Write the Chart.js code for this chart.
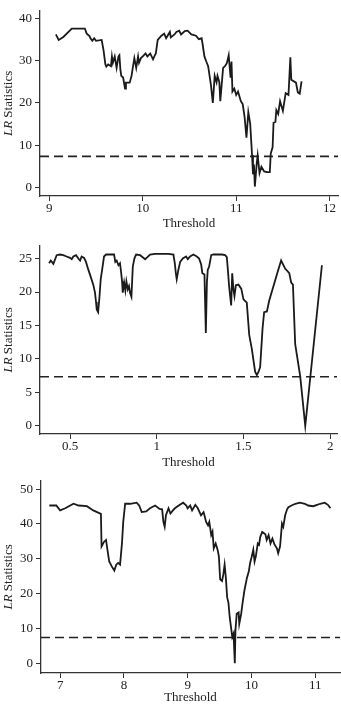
<!DOCTYPE html>
<html>
<head>
<meta charset="utf-8">
<script src="https://cdn.jsdelivr.net/npm/chart.js@4.4.0/dist/chart.umd.min.js"></script>
<style>
    body { margin: 0; background: #fff; }
    .panel { position: absolute; left: 0; width: 341px; height: 235px; }
    canvas { display: block; }
</style>
</head>
<body>
<div class="panel" style="top:0px"><canvas id="grafico-1" width="341" height="235"></canvas></div>
<div class="panel" style="top:235px"><canvas id="grafico-2" width="341" height="235"></canvas></div>
<div class="panel" style="top:470px"><canvas id="grafico-3" width="341" height="235"></canvas></div>
<script>
// Critical value (dashed line)
var valorCritico = 7.35;

// Panel 1
var thr1 = [9.07, 9.10, 9.15, 9.24, 9.38, 9.40, 9.43, 9.44, 9.46, 9.48, 9.50, 9.56, 9.58, 9.60, 9.61,
    9.63, 9.66, 9.67, 9.68, 9.70, 9.72, 9.74, 9.75, 9.76, 9.77, 9.79, 9.81, 9.82, 9.86, 9.88,
    9.89, 9.91, 9.93, 9.95, 9.96, 9.98, 10.00, 10.03, 10.05, 10.08, 10.11, 10.13, 10.14, 10.16, 10.20,
    10.23, 10.25, 10.29, 10.30, 10.34, 10.36, 10.39, 10.41, 10.45, 10.48, 10.52, 10.57, 10.60, 10.63, 10.64,
    10.66, 10.68, 10.70, 10.73, 10.75, 10.77, 10.79, 10.80, 10.82, 10.83, 10.86, 10.88, 10.90, 10.92, 10.94,
    10.95, 10.96, 10.98, 11.00, 11.02, 11.05, 11.07, 11.09, 11.11, 11.13, 11.15, 11.17, 11.18, 11.19, 11.20,
    11.22, 11.23, 11.25, 11.27, 11.30, 11.33, 11.36, 11.37, 11.39, 11.40, 11.42, 11.43, 11.45, 11.47, 11.50,
    11.53, 11.56, 11.58, 11.59, 11.64, 11.66, 11.68, 11.70];
var lr1 = [36.2, 34.9, 35.6, 37.6, 37.6, 36.4, 35.8, 35.3, 34.7, 35.3, 34.7, 34.9, 32.5, 29.1, 28.6,
    29.1, 28.7, 31.0, 29.5, 31.0, 28.3, 31.0, 31.3, 28.0, 26.4, 26.0, 23.4, 24.8, 24.8, 26.4,
    27.9, 30.6, 28.3, 31.0, 29.5, 30.6, 31.0, 31.7, 31.0, 31.7, 30.3, 31.3, 31.7, 34.9, 35.9,
    36.4, 35.3, 36.8, 35.5, 36.2, 36.8, 37.1, 36.2, 37.0, 37.1, 36.2, 35.9, 35.1, 35.3, 34.0,
    31.0, 29.8, 28.7, 24.2, 20.0, 26.4, 24.9, 26.4, 24.9, 20.4, 28.3, 28.7, 29.4, 31.3, 26.0,
    29.8, 22.7, 23.4, 21.9, 22.7, 20.4, 19.7, 16.7, 11.8, 17.8, 15.1, 7.6, 3.1, 5.4, 0.2,
    5.7, 7.6, 3.4, 4.9, 3.8, 3.6, 3.6, 8.0, 9.5, 15.3, 15.5, 18.3, 17.4, 20.4, 18.1,
    22.3, 21.9, 30.8, 25.5, 24.8, 22.5, 22.2, 25.1];
var ejeX1 = [9, 10, 11, 12];
var ejeY1 = [0, 10, 20, 30, 40];

// Panel 2
var thr2 = [0.379, 0.389, 0.404, 0.423, 0.442, 0.461, 0.480, 0.500, 0.510, 0.519, 0.535, 0.548, 0.558, 0.567, 0.581,
    0.592, 0.606, 0.619, 0.634, 0.644, 0.650, 0.654, 0.662, 0.669, 0.677, 0.689, 0.696, 0.708, 0.740, 0.754,
    0.761, 0.769, 0.779, 0.788, 0.794, 0.800, 0.804, 0.812, 0.819, 0.825, 0.833, 0.840, 0.846, 0.854, 0.862,
    0.871, 0.881, 0.904, 0.919, 0.933, 0.946, 0.962, 0.990, 1.029, 1.067, 1.096, 1.104, 1.110, 1.115, 1.123,
    1.135, 1.150, 1.169, 1.179, 1.192, 1.211, 1.231, 1.244, 1.256, 1.263, 1.275, 1.283, 1.289, 1.294, 1.302,
    1.314, 1.327, 1.375, 1.394, 1.404, 1.410, 1.417, 1.423, 1.429, 1.435, 1.442, 1.448, 1.456, 1.471, 1.487,
    1.500, 1.519, 1.533, 1.548, 1.567, 1.577, 1.587, 1.596, 1.610, 1.619, 1.635, 1.648, 1.673, 1.698, 1.717,
    1.740, 1.764, 1.775, 1.785, 1.798, 1.827, 1.856, 1.952];
var lr2 = [24.3, 24.7, 24.2, 25.5, 25.6, 25.5, 25.3, 25.1, 24.9, 25.3, 25.5, 25.0, 24.7, 25.3, 25.1,
    24.5, 23.3, 22.3, 21.1, 19.9, 18.5, 17.4, 17.0, 19.0, 21.9, 24.0, 25.3, 25.6, 25.6, 25.6,
    24.5, 24.7, 24.0, 24.3, 23.1, 21.6, 19.9, 21.4, 20.2, 21.6, 20.4, 20.9, 19.9, 19.3, 23.8,
    25.0, 25.6, 25.5, 25.2, 24.9, 25.2, 25.6, 25.7, 25.7, 25.7, 25.6, 24.3, 22.8, 21.9, 23.1,
    24.5, 25.0, 25.3, 24.9, 25.3, 25.6, 25.3, 25.0, 24.1, 22.8, 22.6, 13.9, 21.4, 23.3, 23.8,
    25.5, 25.6, 25.6, 25.5, 25.2, 23.3, 20.9, 19.4, 18.0, 22.8, 20.4, 19.4, 21.0, 21.1, 20.5,
    18.9, 18.4, 13.6, 11.5, 8.1, 7.6, 8.1, 8.8, 14.6, 17.0, 17.1, 18.7, 20.9, 23.1, 24.7,
    23.5, 22.8, 21.4, 21.1, 12.2, 7.4, 0.0, 24.0];
var ejeX2 = [0.5, 1, 1.5, 2];
var ejeY2 = [0, 5, 10, 15, 20, 25];

// Panel 3
var thr3 = [6.83, 6.94, 7.00, 7.08, 7.21, 7.29, 7.42, 7.52, 7.64, 7.65, 7.69, 7.72, 7.75, 7.77, 7.81,
    7.85, 7.88, 7.91, 7.94, 7.97, 7.99, 8.02, 8.10, 8.20, 8.24, 8.28, 8.35, 8.41, 8.49, 8.56,
    8.60, 8.62, 8.64, 8.66, 8.70, 8.73, 8.77, 8.80, 8.86, 8.93, 8.98, 9.00, 9.04, 9.07, 9.12,
    9.16, 9.21, 9.25, 9.29, 9.32, 9.34, 9.37, 9.39, 9.41, 9.44, 9.47, 9.49, 9.51, 9.54, 9.56,
    9.58, 9.60, 9.62, 9.64, 9.66, 9.68, 9.70, 9.72, 9.74, 9.75, 9.77, 9.80, 9.81, 9.84, 9.86,
    9.89, 9.93, 9.96, 9.98, 10.00, 10.03, 10.05, 10.07, 10.10, 10.12, 10.14, 10.17, 10.22, 10.24, 10.27,
    10.30, 10.33, 10.36, 10.40, 10.42, 10.45, 10.48, 10.50, 10.53, 10.56, 10.58, 10.63, 10.69, 10.76, 10.84,
    10.89, 10.97, 11.03, 11.08, 11.15, 11.20, 11.24];
var lr3 = [45.3, 45.3, 43.9, 44.5, 45.8, 45.3, 45.1, 43.9, 42.9, 33.5, 34.9, 35.4, 31.6, 29.2, 27.8,
    26.6, 28.3, 28.8, 28.3, 34.4, 40.6, 45.8, 45.8, 46.1, 45.3, 43.4, 43.6, 44.5, 45.3, 44.3,
    44.2, 40.6, 39.2, 42.5, 44.5, 43.0, 43.9, 44.5, 45.3, 46.1, 45.3, 44.5, 45.3, 43.9, 45.5,
    44.5, 42.5, 43.4, 40.6, 39.6, 40.6, 36.8, 37.8, 33.0, 34.4, 32.6, 30.7, 24.1, 23.6, 25.5,
    28.3, 24.5, 18.9, 17.4, 13.2, 10.4, 7.5, 8.5, 0.0, 9.4, 14.2, 14.6, 11.3, 14.2, 17.0,
    20.8, 24.5, 26.4, 28.8, 30.2, 32.6, 29.2, 30.7, 34.4, 34.0, 36.3, 37.7, 37.0, 35.4, 36.8,
    34.4, 35.8, 34.2, 33.0, 31.6, 33.6, 40.1, 39.2, 42.5, 44.2, 44.8, 45.3, 45.8, 46.1, 45.8,
    45.3, 45.1, 45.5, 45.8, 46.1, 45.5, 44.5];
var ejeX3 = [7, 8, 9, 10, 11];
var ejeY3 = [0, 10, 20, 30, 40, 50];

var fuente = '"Liberation Serif", "Times New Roman", serif';

//Etiqueta del eje Y con "LR" en cursiva
var etiquetaY = {
    id: 'etiquetaY',
    afterDraw: function (chart) {
        var ctx = chart.ctx;
        var area = chart.chartArea;
        var fItal = 'italic 13px ' + fuente;
        var fNorm = '13px ' + fuente;
        ctx.save();
        ctx.translate(9, (area.top + area.bottom) / 2);
        ctx.rotate(-Math.PI / 2);
        ctx.fillStyle = '#222';
        ctx.textBaseline = 'middle';
        ctx.textAlign = 'left';
        ctx.font = fItal;
        var w1 = ctx.measureText('LR').width;
        ctx.font = fNorm;
        var w2 = ctx.measureText(' Statistics').width;
        var x0 = -(w1 + w2) / 2;
        ctx.font = fItal;
        ctx.fillText('LR', x0, 0);
        ctx.font = fNorm;
        ctx.fillText(' Statistics', x0 + w1, 0);
        ctx.restore();
    }
};

function crearGrafico(id, thr, lr, ticksX, ticksY, rango, m) {
    var ctx = document.getElementById(id).getContext('2d');

    var puntos = thr.map(function (t, i) { return { x: t, y: lr[i] }; });
    var critico = [{ x: rango.xMin, y: valorCritico }, { x: rango.xMax, y: valorCritico }];

    return new Chart(ctx, {
        type: 'line',
        data: {
            datasets: [{
                data: puntos,
                borderColor: '#1a1a1a',
                borderWidth: 1.8,
                pointRadius: 0,
                tension: 0
            }, {
                data: critico,
                borderColor: '#222',
                borderWidth: 1.6,
                borderDash: [9, 5],
                pointRadius: 0
            }]
        },
        options: {
            responsive: false,
            animation: false,
            layout: { padding: { top: m.top, right: m.right, left: 0, bottom: 0 } },
            plugins: { legend: { display: false }, tooltip: { enabled: false } },
            scales: {
                x: {
                    type: 'linear',
                    min: rango.xMin,
                    max: rango.xMax,
                    afterBuildTicks: function (s) { s.ticks = ticksX.map(function (v) { return { value: v }; }); },
                    afterFit: function (s) { s.height = m.bottom; },
                    grid: { drawOnChartArea: false, drawTicks: true, tickLength: 5, color: '#333', lineWidth: 1 },
                    border: { display: true, color: '#333', width: 1.3 },
                    ticks: {
                        color: '#222', padding: 0, maxRotation: 0, autoSkip: false,
                        font: { family: fuente, size: 13 },
                        callback: function (v) { return String(v); }
                    },
                    title: {
                        display: true, text: 'Threshold', color: '#222',
                        font: { family: fuente, size: 13 },
                        padding: { top: 0, bottom: m.titulo }
                    }
                },
                y: {
                    min: rango.yMin,
                    max: rango.yMax,
                    afterBuildTicks: function (s) { s.ticks = ticksY.map(function (v) { return { value: v }; }); },
                    afterFit: function (s) { s.width = m.left; },
                    grid: { drawOnChartArea: false, drawTicks: true, tickLength: 5, color: '#333', lineWidth: 1 },
                    border: { display: true, color: '#333', width: 1.3 },
                    ticks: {
                        color: '#222', padding: 3, autoSkip: false,
                        font: { family: fuente, size: 13 },
                        callback: function (v) { return String(v); }
                    }
                }
            }
        },
        plugins: [etiquetaY]
    });
}

crearGrafico('grafico-1', thr1, lr1, ejeX1, ejeY1,
    { xMin: 8.9, xMax: 12.09, yMin: -2.03, yMax: 41.8 },
    { top: 2, right: 3, left: 40, bottom: 39, titulo: 4 });

crearGrafico('grafico-2', thr2, lr2, ejeX2, ejeY2,
    { xMin: 0.327, xMax: 2.039, yMin: -1.2, yMax: 26.9 },
    { top: 5, right: 4, left: 40, bottom: 36, titulo: 0 });

crearGrafico('grafico-3', thr3, lr3, ejeX3, ejeY3,
    { xMin: 6.70, xMax: 11.39, yMin: -2.83, yMax: 52.4 },
    { top: 8, right: 1, left: 41, bottom: 32, titulo: 0 });
</script>
</body>
</html>
